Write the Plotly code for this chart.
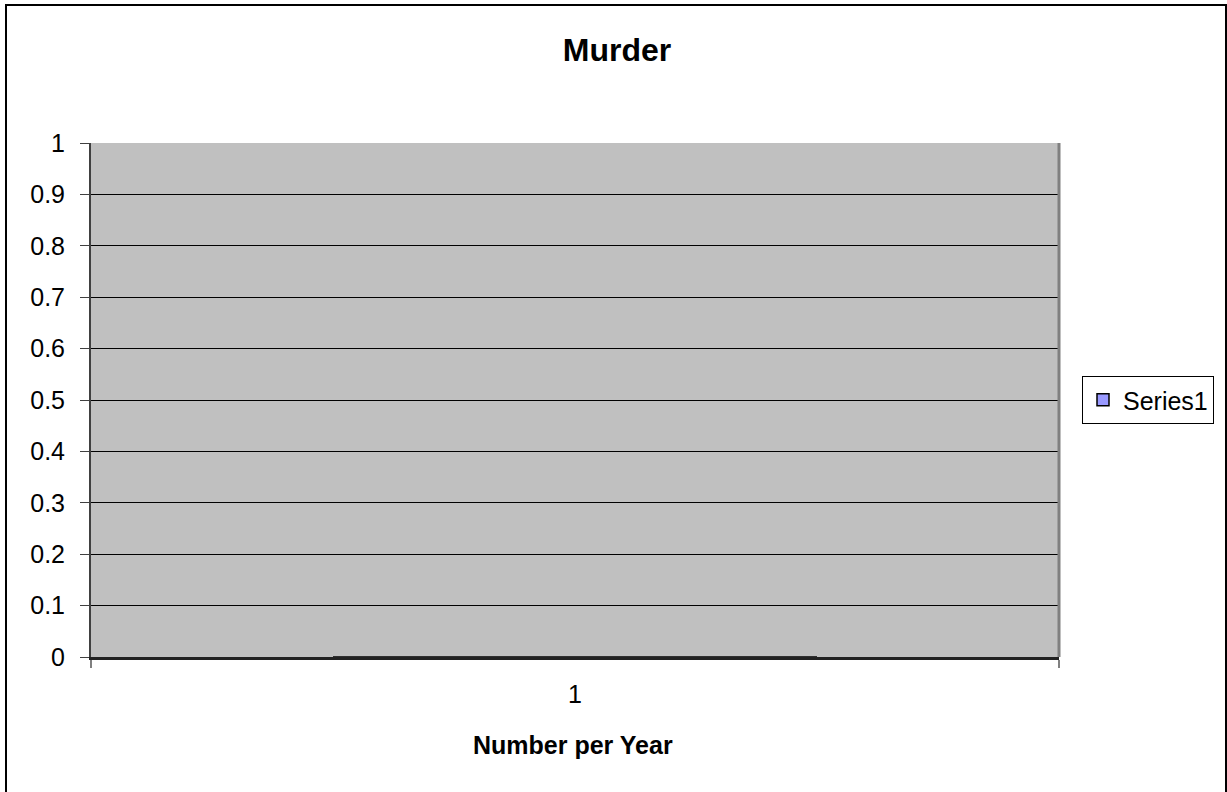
import plotly.graph_objects as go

categories = ["1"]
series1_values = [0]
series_name = "Series1"
y_ticks = [0, 0.1, 0.2, 0.3, 0.4, 0.5, 0.6, 0.7, 0.8, 0.9, 1]
y_tick_labels = ["0", "0.1", "0.2", "0.3", "0.4", "0.5", "0.6", "0.7", "0.8", "0.9", "1"]

W, H = 1227, 792
L, R, T, B = 91, 1059, 143, 657
pw, ph = R - L, B - T

def px_x(x):
    return (x - L) / pw

def px_y(y):
    return (B - y) / ph

FONT = "Liberation Sans, Arial, sans-serif"

fig = go.Figure()
fig.add_trace(go.Bar(
    x=categories, y=series1_values, name=series_name,
    marker=dict(color="#9999FF", line=dict(color="#000000", width=1.5)),
    showlegend=True,
))

fig.update_layout(
    width=W, height=H,
    margin=dict(l=L, r=W - R, t=T, b=H - B, pad=0),
    paper_bgcolor="white",
    plot_bgcolor="#C0C0C0",
    font=dict(family=FONT, size=25, color="black"),
    title=dict(text="<b>Murder</b>", x=px_x(617), xref="paper", xanchor="center",
               y=1 - 50 / H, yref="container", yanchor="middle",
               font=dict(family=FONT, size=32, color="black")),
    showlegend=True,
    legend=dict(x=px_x(1082), y=0.5, xanchor="left", yanchor="middle",
                xref="paper", yref="paper",
                bordercolor="black", borderwidth=1, bgcolor="white",
                font=dict(family=FONT, size=25, color="black"),
                itemwidth=30, tracegroupgap=0),
    bargap=0.5,
)

fig.update_xaxes(
    type="category",
    showgrid=False,
    ticks="outside", ticklen=8, tickcolor="#808080", tickwidth=2,
    tickson="boundaries",
    showline=True, linecolor="#222222", linewidth=2.5,
    tickfont=dict(family=FONT, size=25, color="black"),
    ticklabelstandoff=13,
    zeroline=False,
    layer="above traces",
)
fig.update_yaxes(
    range=[0, 1],
    tickmode="array", tickvals=y_ticks, ticktext=y_tick_labels,
    showgrid=True, gridcolor="#000000", gridwidth=1,
    ticks="outside", ticklen=9, tickcolor="#404040", tickwidth=1,
    showline=True, linecolor="#404040", linewidth=2,
    tickfont=dict(family=FONT, size=25, color="black"),
    ticklabelstandoff=10,
    zeroline=False,
    layer="above traces",
)

# x-axis title
fig.add_annotation(
    text="<b>Number per Year</b>", x=px_x(573), y=px_y(745),
    xref="paper", yref="paper", showarrow=False,
    xanchor="center", yanchor="middle",
    font=dict(family=FONT, size=25, color="black"),
)

# right edge of plot area (gray)
fig.add_shape(type="line", xref="paper", yref="paper",
              x0=1, x1=1, y0=0, y1=1,
              line=dict(color="#808080", width=3))
# outer chart border
fig.add_shape(type="rect", xref="paper", yref="paper",
              x0=px_x(6), x1=px_x(1226), y0=px_y(5), y1=px_y(800),
              line=dict(color="black", width=2), fillcolor="rgba(0,0,0,0)",
              layer="above")

fig.write_html("out.html", config={"displayModeBar": False},
               post_script="document.body.style.margin='0';document.body.style.overflow='hidden';")
